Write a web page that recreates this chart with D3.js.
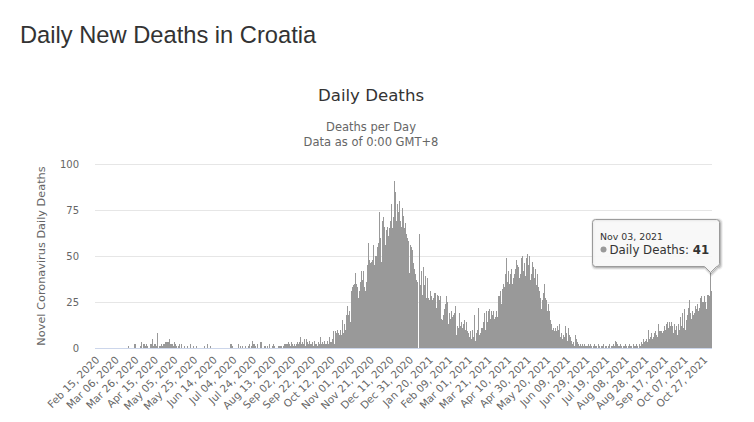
<!DOCTYPE html>
<html><head><meta charset="utf-8">
<script src="https://cdn.jsdelivr.net/npm/d3@7"></script>
<style>body{margin:0;background:#fff}svg{display:block}</style>
</head><body>
<svg id="c" width="754" height="422"></svg>
<script>
// ---- DATA ----
const startDate = "2020-02-15";
// Feb 15 2020 – Oct 09 2020
const deathsFirstWave = [
0,0,0,0,0,0,0,0,0,0,
0,0,0,0,0,0,0,0,0,0,
0,0,0,0,0,0,0,0,0,0,
0,0,0,0,1,0,0,0,0,0,
2,2,0,0,0,0,1,3,0,2,
2,1,2,1,1,0,0,2,2,5,
1,2,2,1,8,0,1,1,2,1,
2,2,3,3,3,3,5,2,2,2,
1,3,2,1,0,1,2,0,2,0,
0,1,0,0,1,0,0,2,0,0,
1,0,0,1,0,0,0,0,0,0,
0,0,1,0,0,2,0,0,1,0,
0,0,0,0,0,0,0,0,0,0,
0,0,0,0,0,0,0,0,2,2,
1,0,0,0,0,0,2,0,1,0,
1,0,0,1,0,0,1,2,1,0,
1,4,2,2,1,0,2,0,0,3,
3,0,0,1,1,0,1,0,2,0,
0,1,2,1,0,0,0,1,1,1,
1,0,1,2,2,2,2,3,2,1,
3,2,1,2,1,2,3,2,3,2,
6,2,3,2,5,1,5,3,2,4,
2,2,3,1,4,2,2,1,3,2,
6,2,3,2,4,2,2,4];
// Oct 10 2020 – Jan 10 2021
const deathsSecondWave = [
2,6,3,3,5,9,2,9,8,10,8,7,10,7,
15,8,13,10,18,23,18,20,14,31,33,25,34,35,41,35,33,27,31,36,42,37,42,33,31,36,
45,57,48,46,47,48,56,45,50,50,55,57,74,60,47,69,71,66,56,64,66,61,65,69,78,65,
71,91,85,69,78,74,80,69,66,76,72,66,65,68,62,60,58,41,56,55,53,46,43,40,37,36,0];
// Jan 11 2021 – Aug 01 2021
const deathsThirdWave = [
62,34,42,29,44,34,39,27,38,27,
26,31,28,26,27,30,30,22,29,28,
26,28,16,15,18,21,24,28,25,13,
19,16,20,17,18,19,17,23,7,12,
11,19,12,14,11,13,15,10,14,9,
8,6,9,5,10,6,18,4,8,10,
22,7,8,11,11,14,19,10,20,14,
20,21,16,20,18,20,16,17,20,17,
28,28,
31,24,32,35,33,40,49,40,36,42,
35,40,43,35,38,40,43,48,45,44,
38,40,49,50,42,46,39,49,51,45,
50,37,40,47,44,38,43,34,40,33,
31,27,21,26,30,35,27,26,20,24,
20,15,13,10,11,9,11,9,7,12,
10,13,6,8,5,7,6,12,8,4,
11,7,6,4,2,3,1,7,5,3,
2,1,2,1,2,1,2,1,1,1,2];
// Aug 02 2021 – Nov 04 2021
const deathsFourthWave = [
1,2,1,0,1,2,1,1,0,2,1,0,1,1,2,0,1,1,0,1,2,1,0,1,1,2,1,
4,3,2,1,
1,2,1,0,1,1,2,1,0,1,2,1,1,0,2,1,1,2,1,0,2,1,
3,2,5,3,4,5,3,
10,5,6,8,5,6,8,9,7,6,
13,9,9,8,9,8,9,12,10,13,14,11,14,12,14,12,8,13,10,12,
7,13,10,17,12,19,11,21,10,15,18,22,26,19,16,20,18,19,23,21,
24,20,22,27,28,25,25,28,25,21,29,29,28,
41,31];
const tickLabels = ["Feb 15, 2020","Mar 06, 2020","Mar 26, 2020","Apr 15, 2020","May 05, 2020","May 25, 2020","Jun 14, 2020","Jul 04, 2020","Jul 24, 2020","Aug 13, 2020","Sep 02, 2020","Sep 22, 2020","Oct 12, 2020","Nov 01, 2020","Nov 21, 2020","Dec 11, 2020","Dec 31, 2020","Jan 20, 2021","Feb 09, 2021","Mar 01, 2021","Mar 21, 2021","Apr 10, 2021","Apr 30, 2021","May 20, 2021","Jun 09, 2021","Jun 29, 2021","Jul 19, 2021","Aug 08, 2021","Aug 28, 2021","Sep 17, 2021","Oct 07, 2021","Oct 27, 2021"];
const yTicks = [0, 25, 50, 75, 100];
const hoverLabel = "Nov 03, 2021";

// ---- CHART ----
const deaths = [].concat(deathsFirstWave, deathsSecondWave, deathsThirdWave, deathsFourthWave);
const start = d3.timeParse("%Y-%m-%d")(startDate);
const fmt = d3.timeFormat("%b %d, %Y");
const categories = deaths.map((_, i) => fmt(d3.timeDay.offset(start, i)));
const hoverIndex = categories.indexOf(hoverLabel);

const svg = d3.select("#c");
const X0 = 95, X1 = 712, Y0 = 348, Y1 = 164;
const x = d3.scaleBand().domain(d3.range(deaths.length)).range([X0, X1]).padding(0);
const y = d3.scaleLinear().domain([0, 100]).range([Y0, Y1]);
const grayText = "#666666";
const chartFont = "'DejaVu Sans', Verdana, sans-serif";

svg.append("text").attr("x", 20).attr("y", 43).text("Daily New Deaths in Croatia")
  .attr("font-family", "'Liberation Sans', Arial, sans-serif").attr("font-size", 23.7).attr("fill", "#333");

svg.append("text").attr("x", 371).attr("y", 101).attr("text-anchor", "middle")
  .attr("font-family", chartFont).attr("font-size", 16.6).attr("fill", "#333").text("Daily Deaths");
const sub = svg.append("text").attr("text-anchor", "middle").attr("font-family", chartFont)
  .attr("font-size", 11.5).attr("fill", grayText);
sub.append("tspan").attr("x", 371).attr("y", 131).text("Deaths per Day");
sub.append("tspan").attr("x", 371).attr("y", 145.5).text("Data as of 0:00 GMT+8");

// y axis + grid
const yAxis = svg.append("g").attr("transform", `translate(${X0},0)`)
  .call(d3.axisLeft(y).tickValues(yTicks).tickSize(-(X1 - X0)).tickPadding(16));
yAxis.select(".domain").remove();
yAxis.selectAll("line").attr("stroke", "#e6e6e6").attr("shape-rendering", "crispEdges");
yAxis.selectAll("text").attr("font-family", chartFont).attr("font-size", 10).attr("fill", grayText);
yAxis.selectAll(".tick").filter(d => d === 0).select("line").remove();

svg.append("text").attr("transform", "translate(45,256) rotate(-90)").attr("text-anchor", "middle")
  .attr("font-family", chartFont).attr("font-size", 11.3).attr("fill", grayText)
  .text("Novel Coronavirus Daily Deaths");

// bars (pixel-snapped, like the original renderer)
const px = i => Math.floor(x(i));
svg.append("g").attr("shape-rendering", "crispEdges").selectAll("rect").data(deaths).join("rect")
  .attr("x", (d, i) => px(i))
  .attr("width", (d, i) => Math.max(1, (i + 1 < deaths.length ? px(i + 1) : X1) - px(i)))
  .attr("y", d => Math.round(y(d)))
  .attr("height", d => Y0 - Math.round(y(d)))
  .attr("fill", "#999999");

// x axis
const tickIdx = tickLabels.map(l => categories.indexOf(l));
const xAxis = svg.append("g").attr("transform", `translate(0,${Y0})`)
  .call(d3.axisBottom(x).tickValues(tickIdx).tickFormat(i => categories[i]).tickSize(0));
xAxis.select(".domain").attr("stroke", "#ccd6eb").attr("shape-rendering", "crispEdges")
  .attr("d", `M${X0},0.5H${X1}`);
xAxis.selectAll("text").attr("x", 0).attr("y", 0).attr("dy", "0.35em")
  .attr("transform", "translate(2,10) rotate(-45)").style("text-anchor", "end")
  .attr("font-family", chartFont).attr("font-size", 10.4).attr("fill", grayText);

// tooltip
const bw = x.bandwidth();
const tipX = x(hoverIndex) + bw / 2, tipY = y(deaths[hoverIndex]);
const R = tipX + 9, L = R - 127, B = tipY - 6, T = B - 47, r = 3;
const tipPath = `M${L + r},${T}H${R - r}Q${R},${T} ${R},${T + r}V${B - r}Q${R},${B} ${R - r},${B}L${tipX},${tipY}L${tipX - 6},${B}H${L + r}Q${L},${B} ${L},${B - r}V${T + r}Q${L},${T} ${L + r},${T}Z`;
const tip = svg.append("g");
[[5, 0.05], [3, 0.1], [1, 0.15]].forEach(([w, o]) => {
  tip.append("path").attr("d", tipPath).attr("transform", "translate(1,1)")
    .attr("fill", "none").attr("stroke", "#000").attr("stroke-opacity", o).attr("stroke-width", w);
});
tip.append("path").attr("d", tipPath).attr("fill", "rgba(247,247,247,0.9)").attr("stroke", "#999999").attr("stroke-width", 1);
tip.append("text").attr("x", L + 7.5).attr("y", T + 20).attr("font-family", chartFont)
  .attr("font-size", 9.4).attr("fill", "#333").text(categories[hoverIndex]);
tip.append("circle").attr("cx", L + 11).attr("cy", T + 30).attr("r", 3).attr("fill", "#999999");
const t2 = tip.append("text").attr("x", L + 17).attr("y", T + 34.5).attr("font-family", chartFont)
  .attr("font-size", 11.8).attr("fill", "#333");
t2.append("tspan").text("Daily Deaths: ");
t2.append("tspan").attr("font-weight", "bold").text(deaths[hoverIndex]);
</script>
</body></html>
